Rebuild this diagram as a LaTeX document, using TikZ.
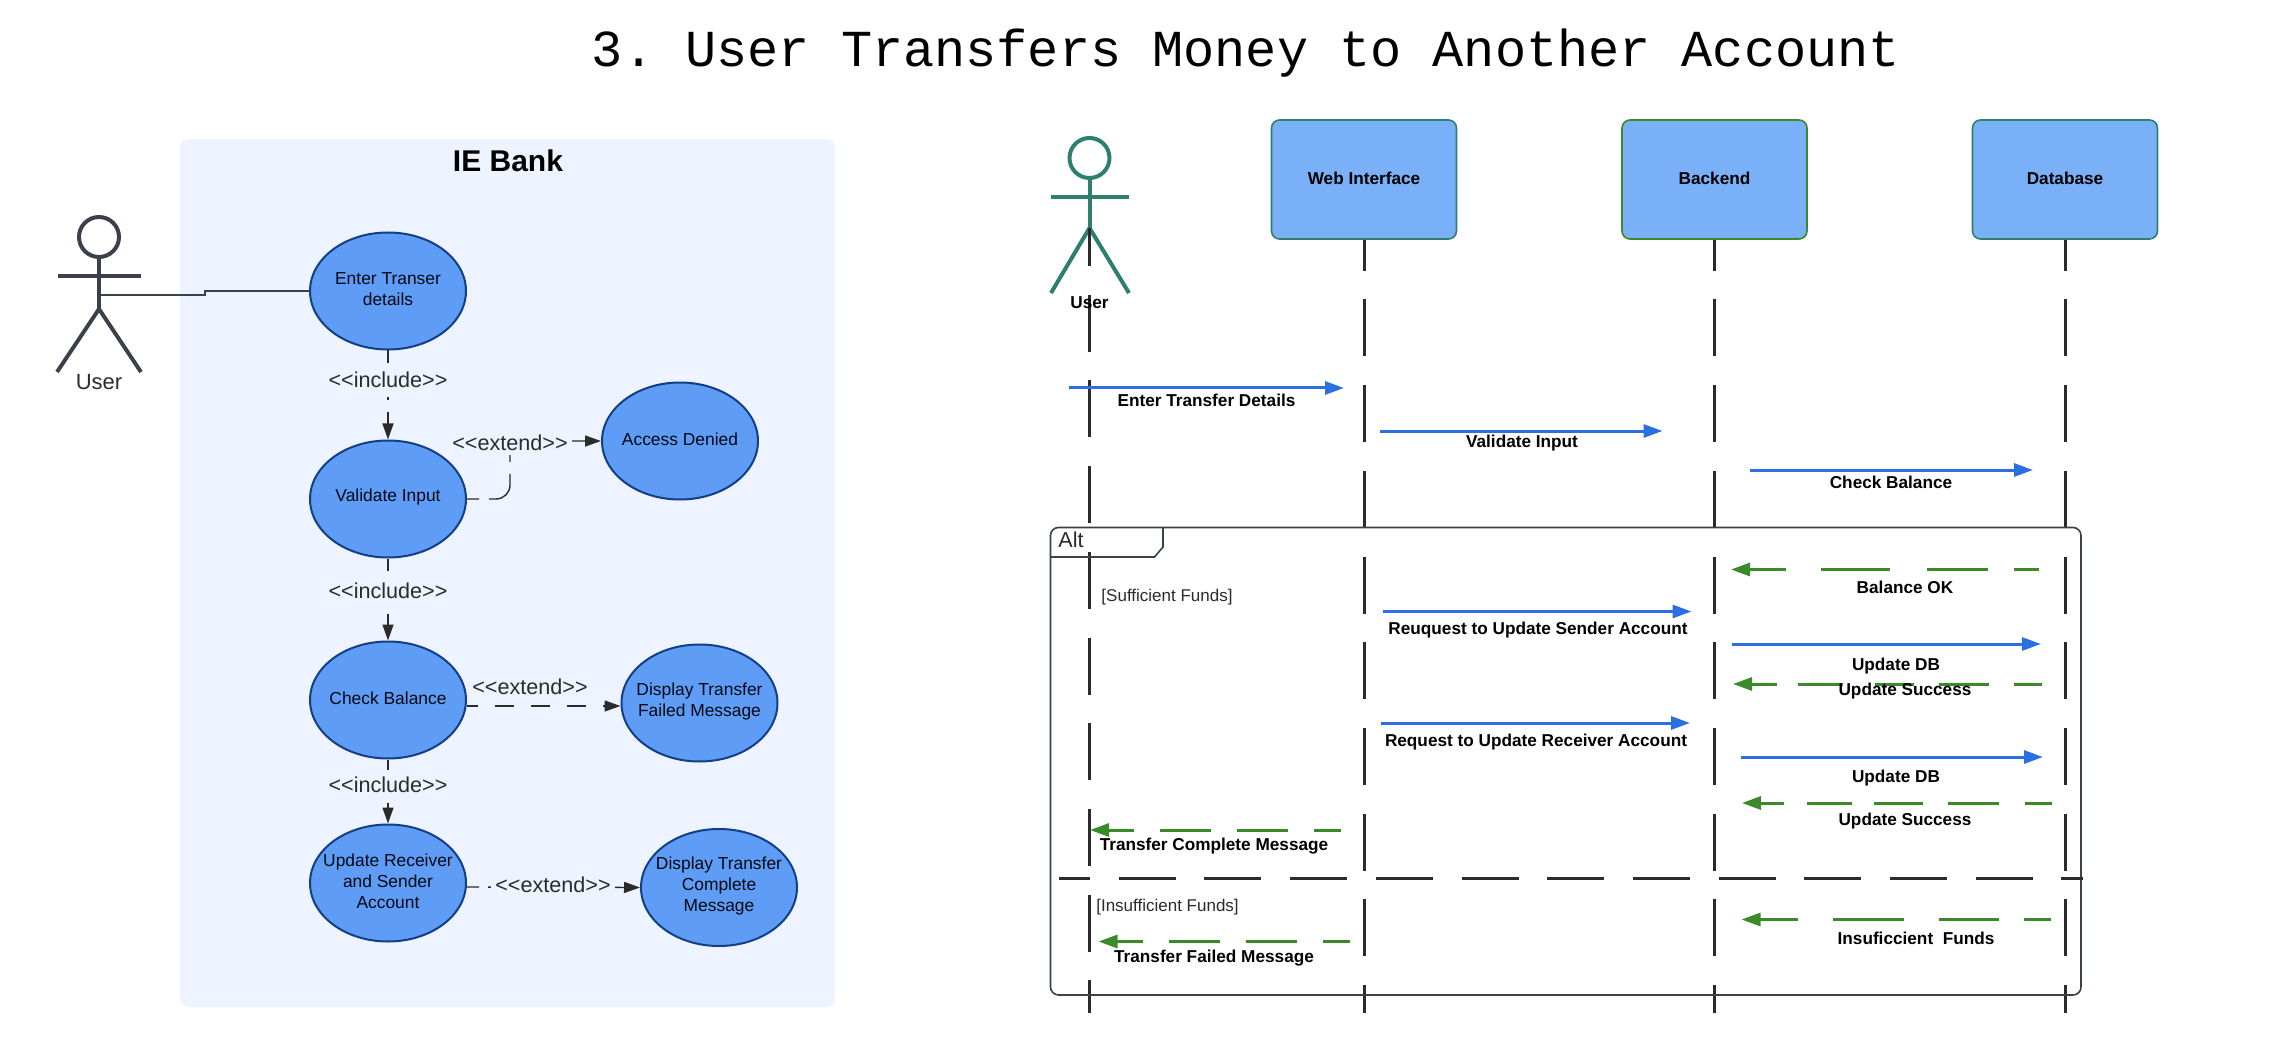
\documentclass[tikz,border=0pt]{standalone}
\usepackage{fontspec}
\setmainfont{Liberation Sans}
\setmonofont{Liberation Mono}
\usetikzlibrary{arrows.meta}
\usetikzlibrary{shapes.geometric}
\definecolor{panelblue}{HTML}{EDF4FF}
\definecolor{casefill}{HTML}{5E9CF5}
\definecolor{caseline}{HTML}{123F86}
\definecolor{boxfill}{HTML}{7AB0F8}
\definecolor{tealline}{HTML}{2F7F70}
\definecolor{greenline}{HTML}{3A8A2A}
\definecolor{blueline}{HTML}{2C6FE0}
\definecolor{slateline}{HTML}{3A414A}
\definecolor{darkline}{HTML}{2B2B2B}
\newcommand{\incl}{<{}<include>{}>}
\newcommand{\extd}{<{}<extend>{}>}

\begin{document}
\begin{tikzpicture}[x=0.5pt,y=-0.5pt,
    case node/.style={ellipse,draw=caseline,line width=1pt,fill=casefill,inner sep=0pt,minimum width=78pt,minimum height=58.5pt},
    case text/.style={align=center,yshift=0.8pt,text=black!85!caseline,font=\fontsize{8.7pt}{10.5pt}\selectfont},
    rel label/.style={fill=panelblue,inner sep=2pt,text=darkline,font=\fontsize{10.8pt}{13pt}\selectfont},
    rel line/.style={->,>={Triangle[length=8pt,width=5.5pt]},draw=darkline,line width=0.7pt,dash pattern=on 9.5pt off 8.5pt,dash phase=4pt},
    box node/.style={rectangle,rounded corners=4pt,fill=boxfill,line width=0.8pt,inner sep=0pt,text depth=1.5pt,minimum width=92.5pt,minimum height=59.5pt,font=\fontsize{8.6pt}{10.5pt}\selectfont\bfseries},
    life line/.style={draw=darkline,line width=1.5pt,dash pattern=on 28.5pt off 14.35pt,dash phase=13pt},
    send/.style={->,>={Triangle[length=9.5pt,width=6.5pt]},draw=blueline,line width=1.5pt},
    back/.style={->,>={Triangle[length=9.5pt,width=6.5pt]},draw=greenline,line width=1.5pt,dash pattern=on 25.3pt off 13pt,dash phase=11.8pt},
    msg label/.style={inner sep=0pt,yshift=-0.6pt,font=\fontsize{8.6pt}{10.5pt}\selectfont\bfseries},
    note label/.style={inner sep=0pt,text=darkline,font=\fontsize{8.5pt}{10.5pt}\selectfont}]
  \useasboundingbox (0,0) rectangle (2288,1048);
  \node[anchor=base,inner sep=0pt,font=\fontsize{25.95pt}{30pt}\selectfont\ttfamily] (title) at (1246,67) {3. User Transfers Money to Another Account};

  \node[rectangle,rounded corners=4pt,fill=panelblue,inner sep=0pt,minimum width=327.5pt,minimum height=434pt] (bank) at (507.5,573) {};
  \node[inner sep=0pt,font=\fontsize{15pt}{18pt}\selectfont\bfseries] (banktitle) at (508,161) {IE Bank};

  \node[circle,draw=slateline,line width=2pt,inner sep=0pt,minimum size=20pt] (head) at (99,237) {};
  \coordinate (hip) at (99,309);
  \coordinate (waist) at (99,295);
  \draw[slateline,line width=2pt] (head.south) -- (hip);
  \draw[slateline,line width=2pt] (58,276) -- (141,276);
  \draw[slateline,line width=2pt] (57,372) -- (hip) -- (141,372);
  \node[inner sep=0pt,text=darkline,font=\fontsize{11pt}{13pt}\selectfont] (user) at (99,382) {User};

  \node[case node,label={[case text]center:{Enter Transer\\details}}] (enter) at (388,291) {};
  \node[case node,label={[case text]center:{Validate Input}}] (validate) at (388,499) {};
  \node[case node,label={[case text]center:{Check Balance}}] (check) at (388,700) {};
  \node[case node,label={[case text]center:{Update Receiver\\and Sender\\Account}}] (update) at (388,883) {};
  \node[case node,label={[case text]center:{Access Denied}}] (denied) at (680,441) {};
  \node[case node,label={[case text]center:{Display Transfer\\Failed Message}}] (failed) at (699.5,703) {};
  \node[case node,label={[case text]center:{Display Transfer\\Complete\\Message}}] (complete) at (719,887.5) {};

  \draw[slateline,line width=0.8pt] (waist) -- (205,295) -- (205,291) -- (enter.west);
  \draw[rel line,dash pattern=on 6.5pt off 17pt on 1.5pt off 6pt on 30pt,dash phase=0pt] (enter) -- (validate);
  \node[rel label] (inc1) at (388,380) {\incl};
  \draw[rel line,dash pattern=on 6pt off 21.5pt on 40pt,dash phase=0pt] (validate) -- (check);
  \node[rel label] (inc2) at (388,591) {\incl};
  \draw[rel line,dash pattern=on 5pt off 16.5pt on 30pt,dash phase=0pt] (check) -- (update);
  \node[rel label] (inc3) at (388,785) {\incl};
  \coordinate (bend) at (510,441);
  \draw[rel line,rounded corners=7pt,dash pattern=on 6pt off 5pt on 20pt off 6pt on 3.5pt off 0pt on 80pt,dash phase=0pt] (validate.east) -| (bend) -- (denied.west);
  \node[rel label] (ext1) at (510,443) {\extd};
  \draw[rel line] ([yshift=-3pt]check.east) -- ([yshift=-1.5pt]failed.west);
  \node[rel label,fill=none] (ext2) at (530,687) {\extd};
  \draw[rel line,dash pattern=on 6pt off 4.5pt on 80pt,dash phase=0pt] ([yshift=-2pt]update.east) -- (complete.west);
  \node[rel label] (ext3) at (553,885) {\extd};

  \node[circle,draw=tealline,line width=2pt,inner sep=0pt,minimum size=20pt] (head2) at (1089.5,158) {};
  \coordinate (hip2) at (1089.5,228);
  \draw[tealline,line width=2pt] (head2.south) -- (hip2);
  \draw[tealline,line width=2.2pt] (1051,197) -- (1129,197);
  \draw[tealline,line width=2pt] (1051,293) -- (hip2) -- (1129,293);

  \node[box node,draw=tealline] (web) at (1364,179.5) {Web Interface};
  \node[box node,draw=greenline] (backend) at (1714.5,179.5) {Backend};
  \node[box node,draw=tealline] (database) at (2065,179.5) {Database};

  \coordinate (userend) at (1089.5,1013);
  \coordinate (webend) at (1364,1013);
  \coordinate (backendend) at (1714.5,1013);
  \coordinate (databaseend) at (2065,1013);
  \draw[life line,dash phase=9.5pt] (hip2) -- (userend);
  \draw[life line] (web) -- (webend);
  \draw[life line] (backend) -- (backendend);
  \draw[life line] (database) -- (databaseend);
  \node[msg label] (user2) at (1089.5,301) {User};

  \draw[slateline,line width=0.8pt,rounded corners=4pt] (1050.5,527.5) rectangle (2081,995);
  \draw[slateline,line width=0.8pt] (1050.5,557) -- (1154.5,557) -- (1163,547) -- (1163,527.5);
  \node[inner sep=0pt,text=darkline,font=\fontsize{10.8pt}{13pt}\selectfont] (alt) at (1071,540) {Alt};
  \coordinate (divs) at (1059,878);
  \coordinate (dive) at (2082.5,878);
  \draw[life line] (divs) -- (dive);

  \coordinate (s1) at (1069,388);
  \coordinate (e1) at (1344,388);
  \draw[send] (s1) -- (e1);
  \node[msg label] (m1) at (1206.5,399) {Enter Transfer Details};
  \coordinate (s2) at (1380,431);
  \coordinate (e2) at (1662.5,431);
  \draw[send] (s2) -- (e2);
  \node[msg label] (m2) at (1522,442) {Validate Input};
  \coordinate (s3) at (1750,470);
  \coordinate (e3) at (2033,470);
  \draw[send] (s3) -- (e3);
  \node[msg label] (m3) at (1891,481) {Check Balance};

  \node[note label] (n1) at (1167,597) {[Sufficient Funds]};
  \coordinate (s4) at (2039,569.5);
  \coordinate (e4) at (1731,569.5);
  \draw[back,dash pattern=on 12.5pt off 13pt on 30.75pt off 18.5pt on 34.5pt off 17.5pt on 40pt,dash phase=0pt] (s4) -- (e4);
  \node[msg label] (m4) at (1905,586) {Balance OK};
  \coordinate (s5) at (1382.5,611.5);
  \coordinate (e5) at (1691.5,611.5);
  \draw[send] (s5) -- (e5);
  \node[msg label] (m5) at (1538,629) {Reuquest to Update Sender Account};
  \coordinate (s6) at (1731.5,644);
  \coordinate (e6) at (2041,644);
  \draw[send] (s6) -- (e6);
  \node[msg label] (m6) at (1896,665) {Update DB};
  \coordinate (s7) at (2042,684);
  \coordinate (e7) at (1733,684);
  \draw[back,dash pattern=on 14pt off 12.5pt on 25pt off 12.5pt on 19.5pt off 16pt on 22.5pt off 10.7pt on 40pt,dash phase=0pt] (s7) -- (e7);
  \node[msg label] (m7) at (1905,690) {Update Success};
  \coordinate (s8) at (1381,723);
  \coordinate (e8) at (1690,723);
  \draw[send] (s8) -- (e8);
  \node[msg label] (m8) at (1536,741) {Request to Update Receiver Account};
  \coordinate (s9) at (1740.5,757);
  \coordinate (e9) at (2043,757);
  \draw[send] (s9) -- (e9);
  \node[msg label] (m9) at (1896,777) {Update DB};
  \coordinate (s10) at (2052,803);
  \coordinate (e10) at (1742,803);
  \draw[back,dash pattern=on 13.7pt off 13pt on 25.2pt off 12.6pt on 24.5pt off 11pt on 22.6pt off 11.5pt on 40pt,dash phase=0pt] (s10) -- (e10);
  \node[msg label] (m10) at (1905,820) {Update Success};
  \coordinate (s11) at (1340.5,830);
  \coordinate (e11) at (1090,830);
  \draw[back] (s11) -- (e11);
  \node[msg label] (m11) at (1214,845) {Transfer Complete Message};

  \node[note label] (n2) at (1167.5,907.5) {[Insufficient Funds]};
  \coordinate (s12) at (2050.5,919.5);
  \coordinate (e12) at (1741.5,919.5);
  \draw[back,dash pattern=on 13.5pt off 12.5pt on 30pt off 17.5pt on 35.5pt off 17.5pt on 40pt,dash phase=0pt] (s12) -- (e12);
  \node[msg label] (m12) at (1916,937) {Insuficcient\ \ Funds};
  \coordinate (s13) at (1349.5,941.5);
  \coordinate (e13) at (1098.5,941.5);
  \draw[back] (s13) -- (e13);
  \node[msg label] (m13) at (1214,957) {Transfer Failed Message};
\end{tikzpicture}
\end{document}
